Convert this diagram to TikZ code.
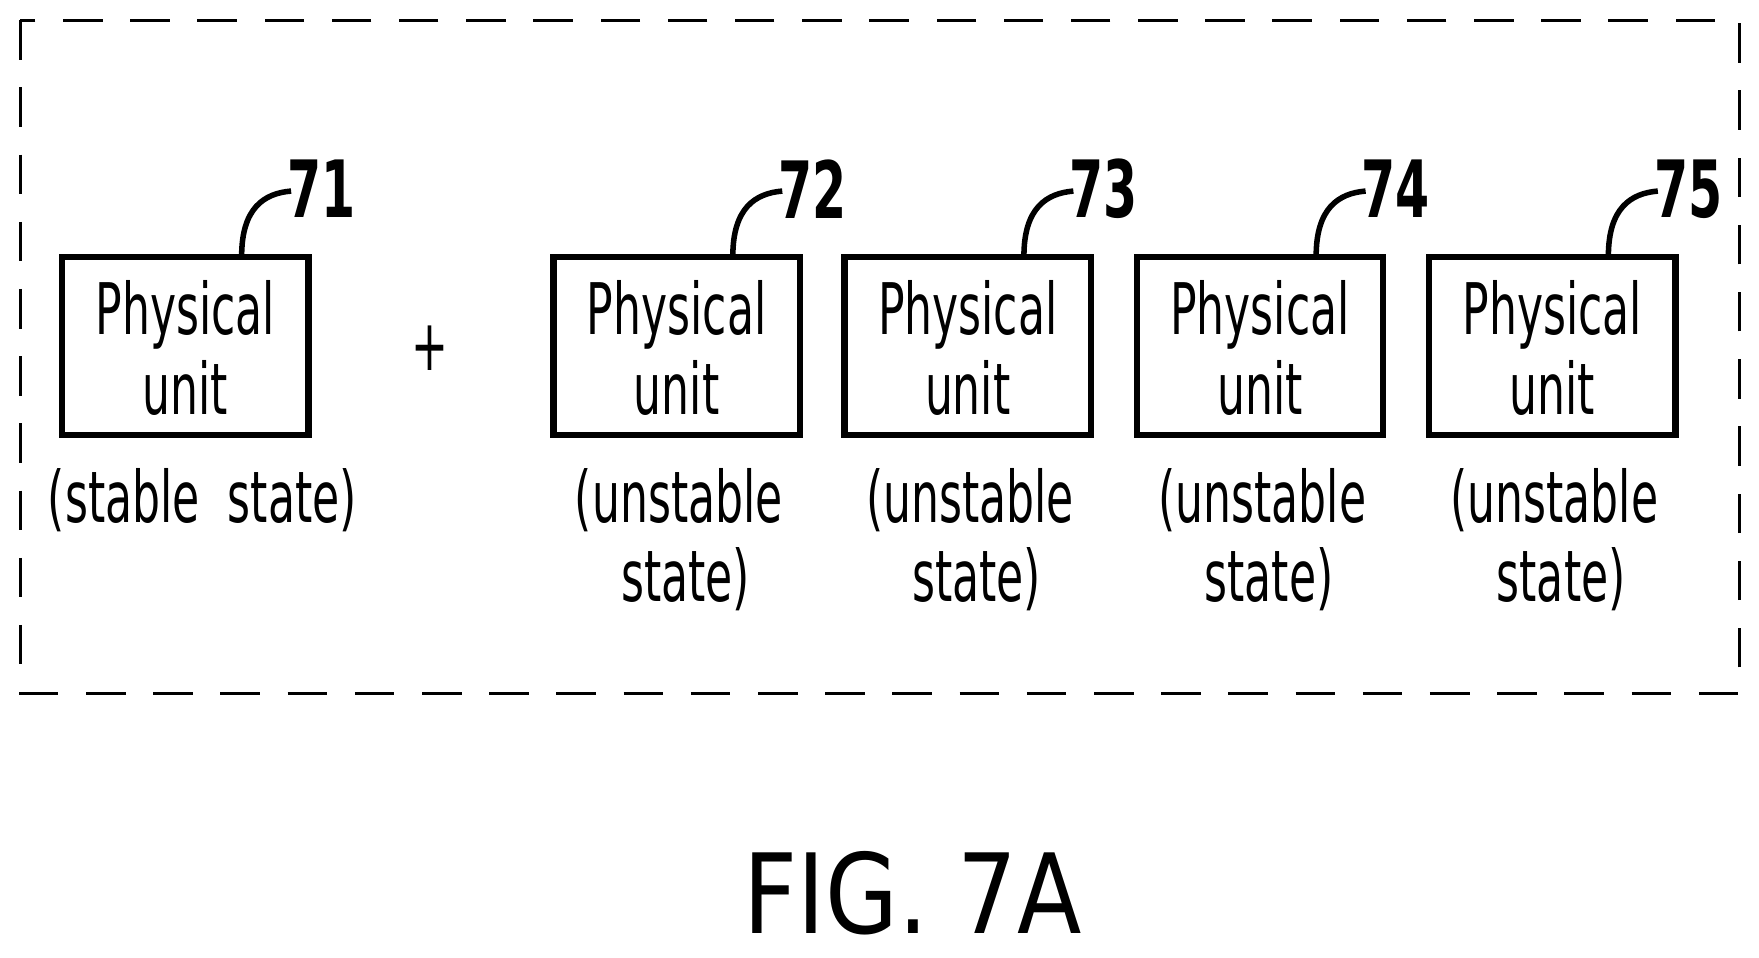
\documentclass[tikz,border=0pt]{standalone}
\usepackage{fontspec}
\newfontfamily\pf[FakeStretch=0.62]{DejaVu Sans}
\newfontfamily\pff[FakeStretch=0.85]{DejaVu Sans}
\newfontfamily\pfb[FakeStretch=0.62]{DejaVu Sans Bold}
\begin{document}
\begin{tikzpicture}[x=0.01cm,y=-0.01cm,
  unit/.style={draw,line width=1.6pt,minimum width=2.19cm,minimum height=1.58cm,inner sep=0pt},
  txt/.style={font=\pf\fontsize{18}{22}\selectfont,align=center,inner sep=0pt},
  num/.style={font=\pfb\fontsize{20}{24}\selectfont,inner sep=0pt},
  lead/.style={line width=1.4pt}]
\useasboundingbox (0,0) rectangle (1565,852);
\draw[dash pattern=on 10pt off 7pt,line width=0.8pt] (18,18) rectangle (1548,617);
\foreach \n/\x in {71/165,72/602,73/861,74/1121,75/1381}{
  \node[unit] (b\n) at (\x,308) {};
  \node[txt] (p\n) at (\x,280) {Physical};
  \node[txt] (u\n) at (\x,345) {unit};
  \node[num] (n\n) at (\x+121,168) {\n};
  \coordinate (c\n) at (\x+50,228);
  \draw[lead] (c\n) .. controls (\x+50,185) and (\x+70,172) .. (\x+94,170);
}
\node[txt] (s71) at (180,445) {(stable\ \ state)};
\foreach \n/\x in {72/602,73/861,74/1121,75/1381}{
  \node[txt] (s\n) at (\x+2,445) {(unstable};
  \node[txt] (t\n) at (\x+8,515) {state)};
}
\node[txt] (plus) at (383,310) {+};
\node[font=\pff\fontsize{28}{32}\selectfont,inner sep=0pt] (fig) at (812,795) {FIG.\ 7A};
\end{tikzpicture}
\end{document}
